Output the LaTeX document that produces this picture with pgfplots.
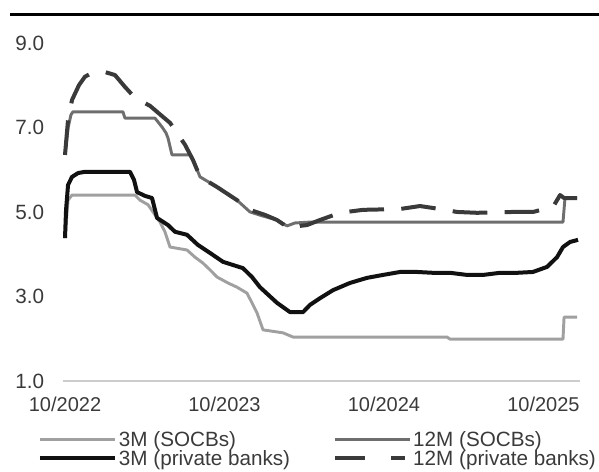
\documentclass[border=0pt]{standalone}
\usepackage{pgfplots}
\pgfplotsset{compat=1.18}
\usepackage{fontspec}
\setmainfont{Liberation Sans}
\definecolor{txt}{HTML}{3A3A3A}
\definecolor{socbthree}{HTML}{A0A0A0}
\definecolor{socbtwelve}{HTML}{6E6E6E}
\definecolor{privtwelve}{HTML}{3A3A3A}
\definecolor{privthree}{HTML}{111111}
\pgfplotsset{dashlegend/.style={legend image code/.code={\draw[##1, dash pattern=on 23pt off 19pt] (0pt,0pt) -- (53pt,0pt);}}}
\begin{document}
\begin{tikzpicture}
\useasboundingbox (-47.25pt,-67.5pt) rectangle (402pt,285.75pt);
\draw[black, line width=2.25pt] (-39.75pt,274.5pt) -- (402pt,274.5pt);
\begin{axis}[
  at={(0pt,0pt)}, anchor=south west,
  scale only axis, width=387.75pt, height=266.25pt,
  xmin=-0.15, xmax=38.75, ymin=1, ymax=9.4,
  clip=false,
  axis line style={draw=none}, major tick length=0pt, tick style={draw=none},
  xtick={0,12,24,36}, xticklabels={10/2022,10/2023,10/2024,10/2025},
  ytick={1,3,5,7,9}, yticklabels={1.0,3.0,5.0,7.0,9.0},
  xticklabel style={anchor=north, inner sep=0pt, yshift=-12pt, font=\fontsize{15}{18}\selectfont, text=txt},
  yticklabel style={anchor=west, inner sep=0pt, xshift=-36pt, font=\fontsize{15.5}{18}\selectfont, text=txt},
  legend columns=2,
  legend cell align=left,
  legend style={at={(-0.0484,-0.1437)}, anchor=north west, draw=none, fill=none,
    inner sep=0pt, outer sep=0pt, font=\fontsize{15.5}{18}\selectfont, text=txt,
    nodes={inner sep=0pt, text height=11pt, text depth=0pt},
    row sep=3pt,
    /tikz/every odd column/.append style={column sep=1.5pt},
    /tikz/every even column/.append style={column sep=32pt}},
  legend image code/.code={\draw[#1] (0pt,0pt) -- (56.25pt,0pt);},
  every axis plot/.append style={line join=round},
]
\draw[color=gray!40, line width=1.1pt] (axis cs:-0.15,1) -- (axis cs:38.75,1);

% 3M (SOCBs)
\addplot[color=socbthree, line width=2.2pt] coordinates {
(0,4.38) (0.23,5.28) (0.53,5.40) (5.27,5.40) (5.64,5.28) (6.25,5.17) (6.62,5.00)
(7.15,4.76) (7.52,4.53) (7.90,4.17) (9.18,4.10) (9.78,3.93) (10.38,3.79) (10.91,3.63)
(11.44,3.46) (12.26,3.32) (12.94,3.22) (13.69,3.08) (14.07,2.85) (14.45,2.61) (14.90,2.21)
(16.40,2.14) (17.16,2.04) (28.74,2.04) (28.97,1.99) (37.47,1.99) (37.55,2.51) (38.53,2.51)
};
\addlegendentry{3M (SOCBs)}

% 12M (SOCBs)
\addplot[color=socbtwelve, line width=2.2pt] coordinates {
(0,6.35) (0.23,6.99) (0.45,7.30) (0.60,7.37) (4.36,7.37) (4.51,7.22) (6.77,7.22)
(7.0,7.13) (7.30,7.01) (7.60,6.87) (7.75,6.75) (8.05,6.35) (9.41,6.35) (9.63,6.23)
(10.16,5.83) (11.44,5.59) (12.94,5.28) (13.92,5.00) (14.82,4.91) (15.95,4.81) (16.70,4.67)
(17.31,4.74) (18.43,4.76) (37.47,4.76) (37.62,5.33) (38.53,5.33)
};
\addlegendentry{12M (SOCBs)}

% 3M (private banks)
\addplot[color=privthree, line width=3pt] coordinates {
(0,4.38) (0.08,5.05) (0.23,5.64) (0.53,5.83) (0.98,5.92) (1.5,5.95) (4.89,5.95)
(5.19,5.76) (5.42,5.47) (6.02,5.38) (6.55,5.33) (6.92,4.86) (7.75,4.69) (8.28,4.53)
(9.18,4.46) (10.0,4.22) (10.91,4.03) (11.89,3.82) (13.39,3.67) (14.07,3.46) (14.67,3.22)
(15.95,2.85) (16.93,2.63) (17.91,2.63) (18.43,2.80) (19.19,2.96) (20.17,3.15) (21.44,3.32)
(22.72,3.44) (23.93,3.51) (25.21,3.58) (26.49,3.58) (27.69,3.56) (28.97,3.56) (30.25,3.51)
(31.45,3.51) (32.73,3.56) (34.01,3.56) (35.21,3.58) (36.27,3.70) (37.02,3.93) (37.47,4.17)
(38.0,4.29) (38.6,4.34)
};
\addlegendentry{3M (private banks)}

% 12M (private banks)
\addplot[color=privtwelve, line width=3pt, dash pattern=on 26pt off 13pt, dashlegend] coordinates {
(0,6.35) (0.23,7.18) (0.53,7.65) (1.05,8.0) (1.5,8.2) (2.03,8.29) (3.01,8.31)
(3.76,8.24) (4.51,7.96) (5.27,7.70) (6.40,7.51) (7.37,7.25) (7.9,7.11) (8.43,6.87)
(9.03,6.59) (9.63,6.23) (10.16,5.83) (11.44,5.59) (12.94,5.28) (13.92,5.05) (15.05,4.93)
(15.95,4.81) (16.93,4.60) (17.68,4.67) (18.21,4.69) (19.19,4.81) (20.69,4.98) (22.42,5.05)
(25.21,5.07) (26.71,5.14) (28.2,5.07) (29.5,5.0) (31.0,4.98) (33.71,5.0) (35.21,5.0)
(36.72,5.12) (37.25,5.40) (37.55,5.33) (38.53,5.33)
};
\addlegendentry{12M (private banks)}
\end{axis}
\end{tikzpicture}
\end{document}
